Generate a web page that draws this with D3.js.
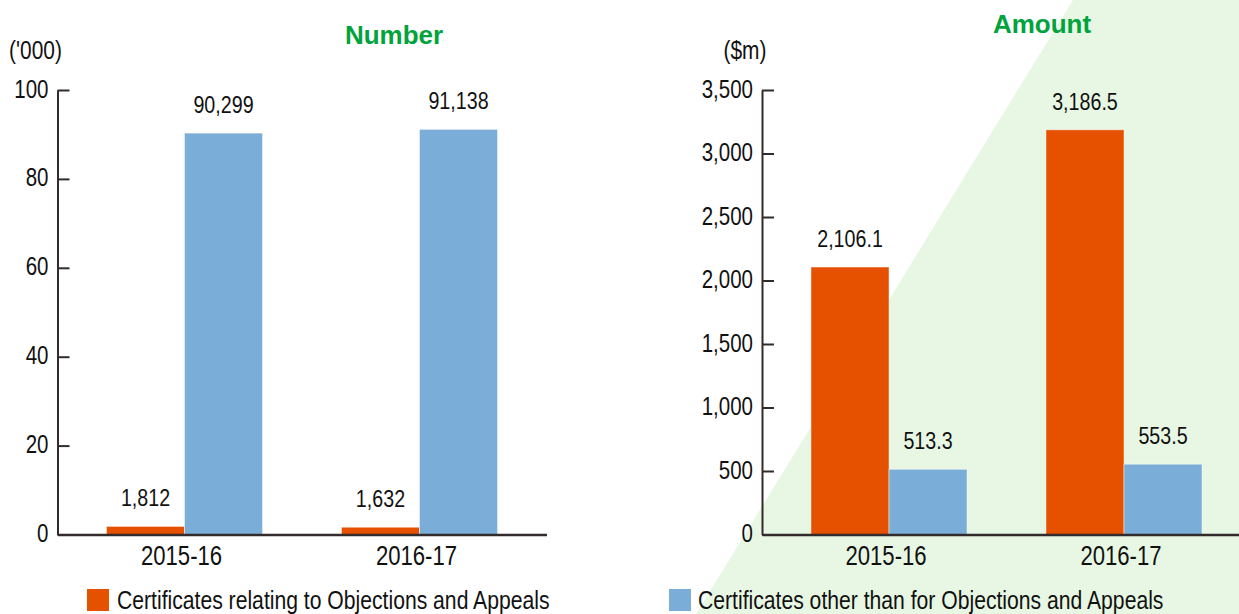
<!DOCTYPE html>
<html>
<head>
<meta charset="utf-8">
<script src="https://cdn.jsdelivr.net/npm/d3@7"></script>
<style>
  html, body { margin: 0; padding: 0; background: #ffffff; }
  svg { display: block; }
  text { font-family: "Liberation Sans", Arial, Helvetica, sans-serif; }
  .lbl { fill: #111; }
  .title { font-weight: bold; fill: #00A33C; }
</style>
</head>
<body>
<svg id="chart" width="1239" height="614"></svg>
<script>
// ---------------- data ----------------
const categories = ["2015-16", "2016-17"];
const seriesNames = [
  "Certificates relating to Objections and Appeals",
  "Certificates other than for Objections and Appeals"
];
const seriesColors = ["#E65100", "#7AAED8"];

const numberObjections = [1812, 1632];      // certificates
const numberOther = [90299, 91138];         // certificates
const numberTicks = [0, 20, 40, 60, 80, 100]; // ('000)

const amountObjections = [2106.1, 3186.5];  // $m
const amountOther = [513.3, 553.5];         // $m
const amountTicks = [0, 500, 1000, 1500, 2000, 2500, 3000, 3500];

const panelTitles = ["Number", "Amount"];
const unitLabels = ["('000)", "($m)"];

// ---------------- drawing ----------------
const SX = 0.82; // condensed look
const svg = d3.select("#chart");

function ntext(parent, x, y, anchor, size, str) {
  return parent.append("text").attr("class", "lbl")
    .attr("transform", `translate(${x},${y}) scale(${SX},1)`)
    .attr("text-anchor", anchor).attr("font-size", size).text(str);
}

// decorative green background band
svg.append("polygon")
  .attr("points", "1073,0 1239,0 1239,614 696,614")
  .attr("fill", "#E8F7E4");

const plotTop = 90, plotBottom = 534.5, plotWidth = 489;
const axisColor = "#332b2b";

function drawPanel(opts) {
  const g = svg.append("g").attr("transform", `translate(${opts.x0},0)`);
  const x = d3.scaleBand().domain(categories).range([0, plotWidth])
    .paddingInner(0.336).paddingOuter(0.2085);
  const xs = d3.scaleBand().domain([0, 1]).range([0, x.bandwidth()]).padding(0);
  const y = d3.scaleLinear().domain(opts.domain).range([plotBottom, plotTop]);

  const rows = categories.map((c, i) => ({ cat: c, vals: opts.series.map(s => s[i]) }));

  // bars
  const grp = g.selectAll("g.cat").data(rows).join("g")
    .attr("class", "cat")
    .attr("transform", d => `translate(${x(d.cat)},0)`);
  grp.selectAll("rect").data(d => d.vals.map((v, k) => ({ v, k }))).join("rect")
    .attr("x", d => xs(d.k))
    .attr("width", xs.bandwidth())
    .attr("y", d => y(d.v / opts.div))
    .attr("height", d => y(0) - y(d.v / opts.div))
    .attr("fill", d => seriesColors[d.k])
    .attr("stroke", "rgba(255,255,255,0.45)")
    .attr("stroke-width", 1);
  grp.each(function (d) {
    const gg = d3.select(this);
    d.vals.forEach((v, k) => {
      ntext(gg, xs(k) + xs.bandwidth() / 2, y(v / opts.div) - 20, "middle", 24, opts.fmt(v));
    });
  });

  // y axis
  const ax = g.append("g")
    .call(d3.axisLeft(y).tickValues(opts.ticks).tickFormat(d3.format(",")).tickSize(-12).tickSizeOuter(0).tickPadding(9));
  ax.select(".domain").attr("stroke", axisColor).attr("stroke-width", 2);
  ax.selectAll(".tick line").attr("stroke", axisColor).attr("stroke-width", 2);
  ax.selectAll(".tick text").attr("font-size", 25).attr("fill", "#111")
    .attr("font-family", "Liberation Sans, Arial, sans-serif")
    .attr("x", -9 / SX)
    .attr("transform", `scale(${SX},1)`)
    .attr("dy", "0.28em");

  // baseline / x axis
  const xa = g.append("g").attr("transform", `translate(0,${plotBottom})`)
    .call(d3.axisBottom(x).tickSize(0).tickSizeOuter(0).tickPadding(11));
  xa.select(".domain").attr("stroke", axisColor).attr("stroke-width", 2.5);
  xa.selectAll(".tick text").attr("font-size", 27).attr("fill", "#111")
    .attr("font-family", "Liberation Sans, Arial, sans-serif")
    .attr("transform", `translate(-3,0) scale(${SX},1)`);

  // unit label
  ntext(g, opts.unitX, 59, "middle", opts.unitSize, opts.unit);

  // title
  svg.append("text").attr("class", "title")
    .attr("x", opts.titleX).attr("y", opts.titleY)
    .attr("text-anchor", "middle").attr("font-size", 26)
    .text(opts.title);
}

drawPanel({
  x0: 57.5, domain: [0, 100], ticks: numberTicks, div: 1000,
  series: [numberObjections, numberOther], fmt: d3.format(","),
  unit: unitLabels[0], unitX: -22, unitSize: 25.5, title: panelTitles[0], titleX: 394, titleY: 44
});
drawPanel({
  x0: 762, domain: [0, 3500], ticks: amountTicks, div: 1,
  series: [amountObjections, amountOther], fmt: d3.format(",.1f"),
  unit: unitLabels[1], unitX: -17, unitSize: 25.5, title: panelTitles[1], titleX: 1042, titleY: 33
});

// legend
const legendPos = [{ x: 87, tx: 117 }, { x: 669, tx: 698 }];
seriesNames.forEach((name, i) => {
  svg.append("rect").attr("x", legendPos[i].x).attr("y", 589)
    .attr("width", 22).attr("height", 22).attr("fill", seriesColors[i]);
  ntext(svg, legendPos[i].tx, 609, "start", 25.8, name);
});
</script>
</body>
</html>
